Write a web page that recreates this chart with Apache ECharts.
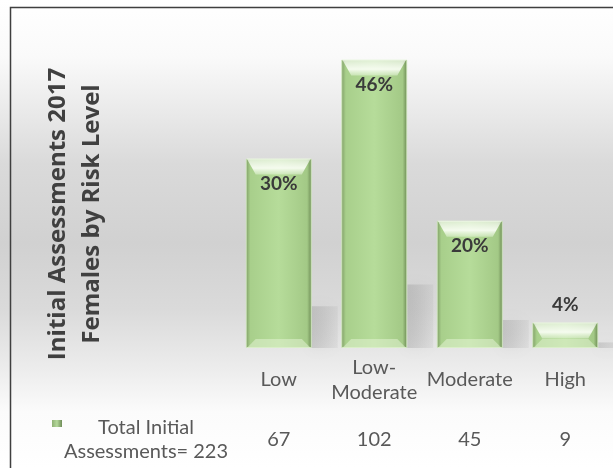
<!DOCTYPE html>
<html lang="en">
<head>
    <meta charset="UTF-8">
    <title>Initial Assessments 2017</title>
    <script src="https://cdn.jsdelivr.net/npm/echarts@6/dist/echarts.min.js"></script>
</head>
<body style="margin:0">
<div id="main" style="width: 613px;height:468px;"></div>
<script type="text/javascript">
    var myChart = echarts.init(document.getElementById('main'));

    // data
    var categories = ['Low', 'Low-\nModerate', 'Moderate', 'High'];
    var counts = [67, 102, 45, 9];
    var pctLabels = ['30%', '46%', '20%', '4%'];
    var rowName = ['Total Initial', 'Assessments= 223'];
    var titleLines = ['Initial Assessments 2017', 'Females by Risk Level'];

    var font = 'Lato, "Open Sans", sans-serif';

    var barData = counts.map(function (v, i) {
        var item = {value: v};
        if (v < 20) {
            item.label = {position: 'top', distance: 8};
        }
        return item;
    });

    var barColor = new echarts.graphic.LinearGradient(0, 0, 1, 0, [
        {offset: 0, color: '#7f9d66'},
        {offset: 0.07, color: '#a8cf8b'},
        {offset: 0.5, color: '#b6dc9a'},
        {offset: 0.93, color: '#a3c986'},
        {offset: 1, color: '#6b8953'}
    ]);

    option = {
        backgroundColor: new echarts.graphic.LinearGradient(0, 0, 0, 1, [
            {offset: 0, color: '#ffffff'},
            {offset: 0.12, color: '#fafafa'},
            {offset: 0.35, color: '#dadada'},
            {offset: 0.52, color: '#d1d1d1'},
            {offset: 0.66, color: '#dadada'},
            {offset: 0.8, color: '#eeeeee'},
            {offset: 0.88, color: '#fbfbfb'},
            {offset: 1, color: '#ffffff'}
        ]),
        grid: {left: 231, right: 0, top: 37, bottom: 120},
        xAxis: [{
            type: 'category',
            data: categories,
            axisLine: {show: false},
            axisTick: {show: false},
            axisLabel: {
                interval: 0,
                color: '#595959',
                fontFamily: font,
                fontSize: 20,
                lineHeight: 25,
                verticalAlign: 'middle',
                margin: 32
            }
        }, {
            type: 'category',
            position: 'bottom',
            data: counts.map(String),
            axisLine: {show: false},
            axisTick: {show: false},
            axisLabel: {
                interval: 0,
                color: '#595959',
                fontFamily: font,
                fontSize: 20,
                verticalAlign: 'middle',
                margin: 92
            }
        }],
        yAxis: {
            type: 'value',
            min: 0,
            max: 110,
            show: false
        },
        series: [{
            // soft shadow cast to the right of each bar
            type: 'pictorialBar',
            data: counts,
            symbol: 'rect',
            symbolPosition: 'start',
            symbolSize: [26, '22%'],
            symbolOffset: [46, 0],
            z: 1,
            itemStyle: {
                color: new echarts.graphic.LinearGradient(0, 0, 1, 0, [
                    {offset: 0, color: 'rgba(120,120,120,0.25)'},
                    {offset: 1, color: 'rgba(120,120,120,0.08)'}
                ]),
                shadowBlur: 16,
                shadowColor: 'rgba(120,120,120,0.4)'
            },
            silent: true
        }, {
            name: 'Total Initial Assessments',
            type: 'bar',
            data: barData,
            barWidth: 66,
            z: 2,
            itemStyle: {
                color: barColor,
                borderColor: 'rgba(210,235,190,0.8)',
                borderWidth: 1
            },
            label: {
                show: true,
                position: 'insideTop',
                distance: 16,
                color: '#3a3a3a',
                fontFamily: font,
                fontWeight: 'bold',
                fontSize: 19,
                formatter: function (p) {
                    return pctLabels[p.dataIndex];
                }
            }
        }, {
            // top bevel highlight
            type: 'pictorialBar',
            data: counts,
            symbol: 'path://M0,0 L100,0 L86,20 L14,20 Z',
            symbolPosition: 'end',
            symbolSize: [64, 16],
            z: 3,
            itemStyle: {
                color: new echarts.graphic.LinearGradient(0, 0, 0, 1, [
                    {offset: 0, color: 'rgba(255,255,255,0.55)'},
                    {offset: 0.6, color: 'rgba(252,255,248,0.9)'},
                    {offset: 1, color: 'rgba(235,248,225,0.45)'}
                ])
            },
            silent: true
        }, {
            // bottom bevel highlight
            type: 'pictorialBar',
            data: counts,
            symbol: 'path://M14,0 L86,0 L100,20 L0,20 Z',
            symbolPosition: 'start',
            symbolSize: [64, 9],
            z: 3,
            itemStyle: {
                color: 'rgba(225,242,210,0.55)'
            },
            silent: true
        }],
        graphic: [{
            type: 'rect',
            shape: {x: 10.5, y: 7.5, width: 700, height: 600},
            style: {fill: 'none', stroke: '#3f3f3f', lineWidth: 1.5},
            silent: true
        }, {
            type: 'text',
            x: 75,
            y: 214,
            rotation: Math.PI / 2,
            style: {
                text: titleLines.join('\n'),
                fill: '#404040',
                font: 'bold 24px "Open Sans", sans-serif',
                lineHeight: 34,
                align: 'center',
                verticalAlign: 'middle'
            }
        }, {
            type: 'rect',
            shape: {x: 52, y: 420, width: 10, height: 7},
            style: {
                fill: new echarts.graphic.LinearGradient(0, 0, 1, 0, [
                    {offset: 0, color: '#8fb074'},
                    {offset: 0.5, color: '#b4d89a'},
                    {offset: 1, color: '#6f8c58'}
                ])
            }
        }, {
            type: 'text',
            x: 146,
            y: 428,
            style: {
                text: rowName[0],
                fill: '#595959',
                font: '20px ' + font,
                align: 'center',
                verticalAlign: 'middle'
            }
        }, {
            type: 'text',
            x: 146,
            y: 452,
            style: {
                text: rowName[1],
                fill: '#595959',
                font: '20px ' + font,
                align: 'center',
                verticalAlign: 'middle'
            }
        }]
    };

    myChart.setOption(option);
</script>
</body>
</html>
